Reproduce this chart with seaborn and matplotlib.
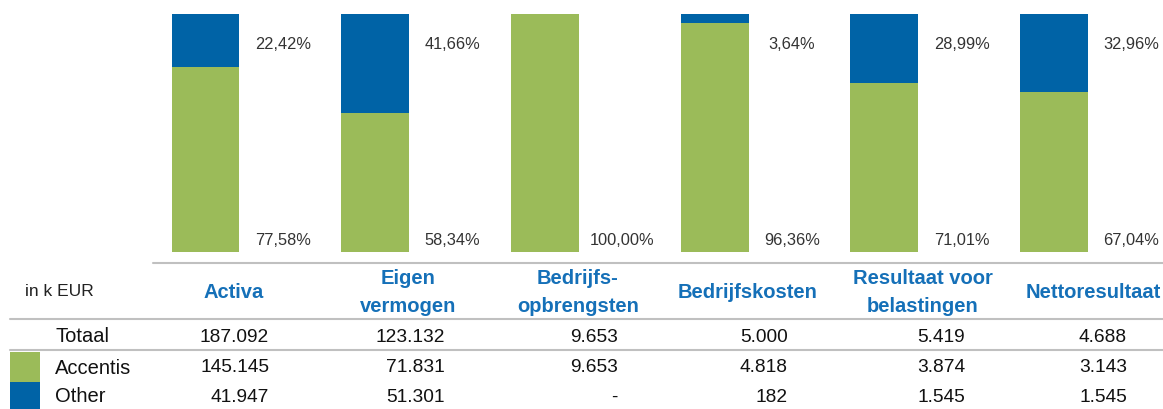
import numpy as np
import pandas as pd
import seaborn as sns
import matplotlib.pyplot as plt

# data
categories = ['Activa', 'Eigen\nvermogen', 'Bedrijfs-\nopbrengsten', 'Bedrijfskosten',
              'Resultaat voor\nbelastingen', 'Nettoresultaat']
accentis_pct = [77.58, 58.34, 100.00, 96.36, 71.01, 67.04]
other_pct = [22.42, 41.66, 0.00, 3.64, 28.99, 32.96]
totaal = ['187.092', '123.132', '9.653', '5.000', '5.419', '4.688']
accentis = ['145.145', '71.831', '9.653', '4.818', '3.874', '3.143']
other = ['41.947', '51.301', '-', '182', '1.545', '1.545']

GREEN = '#9BBB59'
BLUE = '#0063A6'
HEAD = '#1570B8'
GREY = '#C0C0C0'

sns.set_theme(style='white')
plt.rcParams['font.family'] = ['Liberation Sans Narrow', 'Liberation Sans', 'DejaVu Sans']

W, H = 1163, 409
fig = plt.figure(figsize=(W / 100, H / 100), dpi=100)

# bar axes placed in pixel space
x0 = 205.5
step = 169.7
ax = fig.add_axes([0, (H - 252) / H, 1, 238 / H])
df = pd.DataFrame({'cat': categories, 'acc': accentis_pct, 'oth': other_pct})
df['tot'] = df['acc'] + df['oth']
sns.barplot(data=df, x='cat', y='tot', color=BLUE, width=0.4, saturation=1, linewidth=0, ax=ax)
sns.barplot(data=df, x='cat', y='acc', color=GREEN, width=0.4, saturation=1, linewidth=0, ax=ax)
ax.set_xlim(-x0 / step, (W - x0) / step)
ax.set_ylim(0, 100)
ax.axis('off')

for i, (a, o) in enumerate(zip(accentis_pct, other_pct)):
    ax.text(i + 0.455, 5, f'{a:.2f}%'.replace('.', ','), ha='center', va='center',
            fontsize=11.8, color='#333333')
    if o > 0:
        ax.text(i + 0.455, 87, f'{o:.2f}%'.replace('.', ','), ha='center', va='center',
                fontsize=11.8, color='#333333')

# table overlay in pixel coords
tb = fig.add_axes([0, 0, 1, 1])
tb.set_xlim(0, W)
tb.set_ylim(H, 0)
tb.axis('off')
tb.set_zorder(-1)

tb.plot([153, W], [263, 263], color=GREY, lw=1.5)
tb.plot([10, W], [319, 319], color=GREY, lw=1.5)
tb.plot([10, W], [350, 350], color=GREY, lw=1.5)

tb.add_patch(plt.Rectangle((10, 352), 30, 30, color=GREEN, lw=0))
tb.add_patch(plt.Rectangle((10, 382), 30, 28, color=BLUE, lw=0))

head_x = [234, 408, 578, 748, 923, 1093]
num_x = [269, 445, 618, 788, 965, 1127]

tb.text(25, 292, 'in k EUR', ha='left', va='center', fontsize=12.5, color='#222222')
for hx, lab in zip(head_x, categories):
    parts = lab.split('\n')
    ys = [293] if len(parts) == 1 else [278, 307]
    for part, hy in zip(parts, ys):
        tb.text(hx, hy, part, ha='center', va='center', fontsize=14.5, fontweight='bold',
                color=HEAD)

rows = [('Totaal', totaal, 337), ('Accentis', accentis, 368), ('Other', other, 397)]
for name, vals, y in rows:
    tb.text(55, y, name, ha='left', va='center', fontsize=14.5, color='#111111')
    for nx, v in zip(num_x, vals):
        tb.text(nx, y, v, ha='right', va='center', fontsize=13.8, color='#111111')

fig.savefig('out.png', dpi=100)
